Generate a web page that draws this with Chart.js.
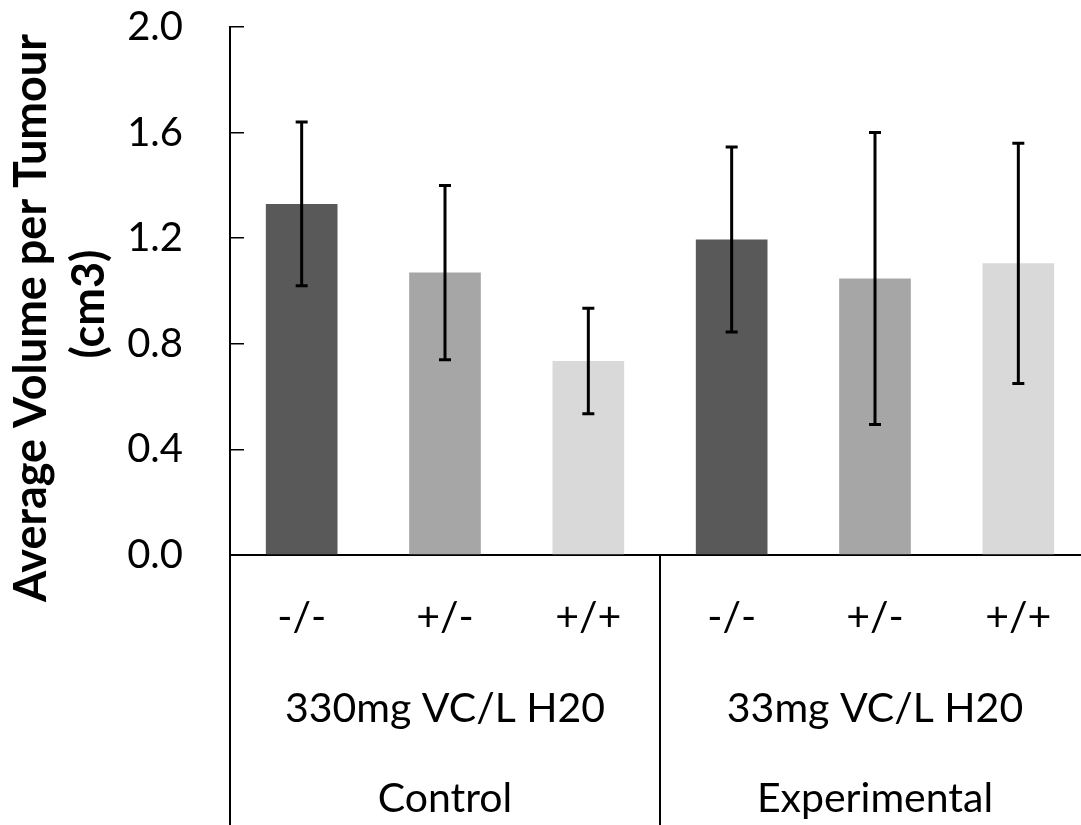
<!DOCTYPE html>
<html>
<head>
<meta charset="utf-8">
<script src="https://cdn.jsdelivr.net/npm/chart.js@4"></script>
<style>
  html, body { margin: 0; padding: 0; background: #fff; overflow: hidden; }
  #wrap { position: absolute; left: 0; top: 0; width: 1090px; height: 825px; }
</style>
</head>
<body>
<div id="wrap"><canvas id="chart"></canvas></div>
<script>
// data
const genotypes = ["-/-", "+/-", "+/+", "-/-", "+/-", "+/+"];
const doses = ["330mg VC/L H20", "33mg VC/L H20"];
const groups = ["Control", "Experimental"];
const volumes = [1.33, 1.07, 0.735, 1.195, 1.047, 1.105];
const errors = [0.31, 0.33, 0.2, 0.35, 0.553, 0.455];
const barColors = ["#595959", "#a6a6a6", "#d9d9d9", "#595959", "#a6a6a6", "#d9d9d9"];
const yTicks = [0, 0.4, 0.8, 1.2, 1.6, 2.0];

// three label rows, the group rows sit under the middle bar of each set of three
const labels = genotypes.map((g, i) => {
  const mid = i % 3 === 1;
  const k = Math.floor(i / 3);
  return [g, mid ? doses[k] : "", mid ? groups[k] : ""];
});

const errorBars = {
  id: "errorBars",
  afterDatasetsDraw(chart) {
    const { ctx } = chart;
    const y = chart.scales.y;
    const meta = chart.getDatasetMeta(0);
    ctx.save();
    ctx.strokeStyle = "#000";
    ctx.lineWidth = 3;
    meta.data.forEach((bar, i) => {
      const top = y.getPixelForValue(volumes[i] + errors[i]);
      const bot = y.getPixelForValue(volumes[i] - errors[i]);
      ctx.beginPath();
      ctx.moveTo(bar.x, top);
      ctx.lineTo(bar.x, bot);
      ctx.moveTo(bar.x - 6, top);
      ctx.lineTo(bar.x + 6, top);
      ctx.moveTo(bar.x - 6, bot);
      ctx.lineTo(bar.x + 6, bot);
      ctx.stroke();
    });
    ctx.restore();
  },
};

// vertical separators below the axis and the rotated y title
const extras = {
  id: "extras",
  afterDraw(chart) {
    const { ctx, chartArea } = chart;
    const x = chart.scales.x;
    const h = chart.height;
    ctx.save();
    ctx.strokeStyle = "#000";
    ctx.lineWidth = 2;
    const seps = [chartArea.left, (x.getPixelForValue(2) + x.getPixelForValue(3)) / 2];
    seps.forEach((sx) => {
      ctx.beginPath();
      ctx.moveTo(Math.round(sx), chartArea.bottom);
      ctx.lineTo(Math.round(sx), h);
      ctx.stroke();
    });

    ctx.fillStyle = "#000";
    ctx.font = "bold 45px Lato";
    ctx.textAlign = "center";
    ctx.textBaseline = "alphabetic";
    ctx.translate(46, 318);
    ctx.rotate(-Math.PI / 2);
    ctx.fillText("Average Volume per Tumour", 0, 0);
    ctx.fillText("(cm3)", 14, 58);
    ctx.restore();
  },
};

new Chart(document.getElementById("chart"), {
  type: "bar",
  data: {
    labels: labels,
    datasets: [
      {
        data: volumes,
        backgroundColor: barColors,
        borderWidth: 0,
        barPercentage: 0.5,
        categoryPercentage: 1,
      },
    ],
  },
  options: {
    responsive: true,
    maintainAspectRatio: false,
    animation: false,
    layout: { padding: { top: 27, left: 0, right: 0, bottom: 0 } },
    plugins: { legend: { display: false }, tooltip: { enabled: false } },
    scales: {
      x: {
        grid: { display: false },
        border: { color: "#000", width: 2 },
        ticks: {
          color: "#000",
          font: { family: "Lato", size: 41, lineHeight: 2.207 },
          padding: 10,
          autoSkip: false,
          maxRotation: 0,
          minRotation: 0,
        },
        afterFit(scale) {
          scale.height = 270;
          scale.paddingLeft = 0;
          scale.paddingRight = 0;
        },
      },
      y: {
        min: 0,
        max: 2,
        grid: {
          drawOnChartArea: false,
          tickLength: -14,
          color: "#000",
          lineWidth: 1.5,
        },
        border: { color: "#000", width: 2 },
        afterBuildTicks(scale) {
          scale.ticks = yTicks.map((v) => ({ value: v }));
        },
        ticks: {
          color: "#000",
          font: { family: "Lato", size: 40 },
          padding: 61,
          callback: (v) => Number(v).toFixed(1),
        },
        afterFit(scale) {
          scale.width = 230;
          scale.paddingTop = 0;
          scale.paddingBottom = 0;
        },
      },
    },
  },
  plugins: [errorBars, extras],
});
</script>
</body>
</html>
